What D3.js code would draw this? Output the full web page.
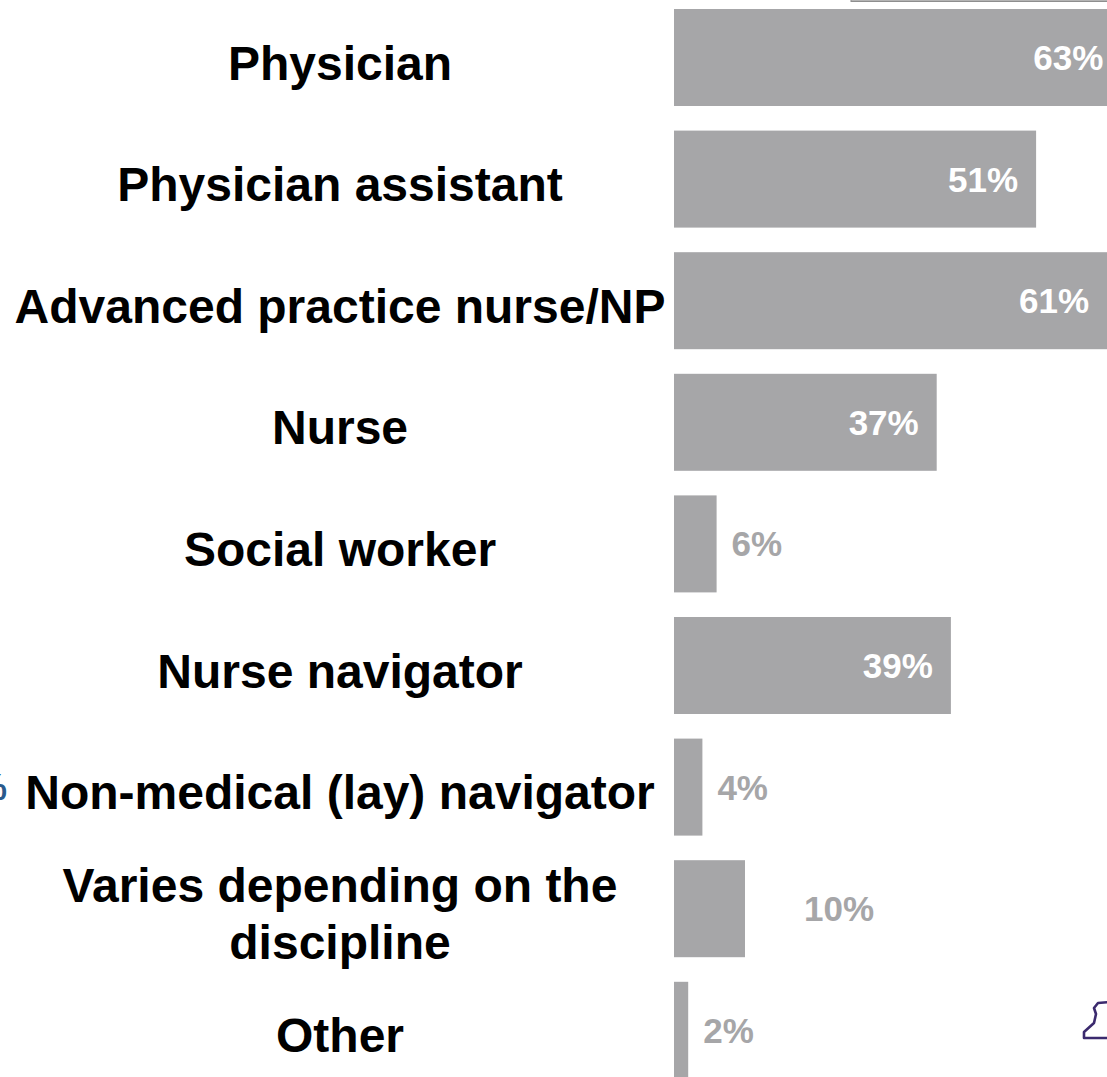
<!DOCTYPE html>
<html>
<head>
<meta charset="utf-8">
<script src="https://cdn.jsdelivr.net/npm/d3@7"></script>
<style>
  html, body { margin: 0; padding: 0; background: #ffffff; overflow: hidden; }
  svg { display: block; }
  text { font-family: "Liberation Sans", Arial, sans-serif; font-weight: bold; }
</style>
</head>
<body>
<svg id="chart" width="1107" height="1077"></svg>
<script>
// Roles and the share of respondents choosing each one (percent)
const roles = [
  "Physician",
  "Physician assistant",
  "Advanced practice nurse/NP",
  "Nurse",
  "Social worker",
  "Nurse navigator",
  "Non-medical (lay) navigator",
  "Varies depending on the\ndiscipline",
  "Other"
];
const shares = [63, 51, 61, 37, 6, 39, 4, 10, 2];

const data = roles.map((r, i) => ({ role: r, value: shares[i] }));

const svg = d3.select("#chart");
const W = 1107, H = 1077;

const baseX = 674;
const x = d3.scaleLinear().domain([0, 100]).range([baseX, baseX + 710]);

const step = 121.6, barH = 97, pInner = (step - barH) / step;
const y = d3.scaleBand()
  .domain(roles)
  .range([9, 9 + step * (roles.length - pInner)])
  .paddingInner(pInner)
  .paddingOuter(0);

const barColor = "#a6a6a8";

// edge of the panel above, cut at the top border
svg.append("rect")
  .attr("x", 851).attr("y", -6).attr("width", W - 851 + 2).attr("height", 7.5)
  .attr("fill", "#b4b4b4").attr("stroke", "#8e8e8e").attr("stroke-width", 1);

// bars
svg.append("g").selectAll("rect")
  .data(data)
  .join("rect")
  .attr("x", x(0))
  .attr("y", d => y(d.role))
  .attr("width", d => x(d.value) - x(0))
  .attr("height", y.bandwidth())
  .attr("fill", barColor);

// category labels, centred in the left column
const labelCx = 340, labelSize = 48, lineGap = 57;
const labels = svg.append("g").selectAll("text")
  .data(data)
  .join("text")
  .attr("text-anchor", "middle")
  .attr("font-size", labelSize)
  .attr("fill", "#000000");
labels.each(function (d) {
  const lines = d.role.split("\n");
  const cy = y(d.role) + y.bandwidth() / 2;
  const first = cy + 22 - (lines.length - 1) * lineGap / 2;
  d3.select(this).selectAll("tspan")
    .data(lines)
    .join("tspan")
    .attr("x", labelCx)
    .attr("y", (l, i) => first + i * lineGap)
    .text(l => l);
});

// value labels: white inside long bars, grey beside short ones
const outsideGap = d => (d.role.startsWith("Varies") ? 59 : 15);
svg.append("g").selectAll("text")
  .data(data)
  .join("text")
  .attr("font-size", 35)
  .attr("y", d => y(d.role) + y.bandwidth() / 2 + 12.5)
  .attr("text-anchor", d => (d.value >= 20 ? "end" : "start"))
  .attr("x", d => (d.value >= 20 ? Math.min(x(d.value), 1122) - 18 : x(d.value) + outsideGap(d)))
  .attr("fill", d => (d.value >= 20 ? "#ffffff" : "#a6a6a8"))
  .text(d => d.value + "%");

// remnant of a neighbouring label at the left border
svg.append("text")
  .attr("x", 7).attr("y", 800)
  .attr("text-anchor", "end")
  .attr("font-size", 36)
  .attr("fill", "#2a5a8c")
  .text("%");

// outline icon peeking in at the lower right
svg.append("path")
  .attr("d", "M1109,1038 L1084,1038 L1084,1032 L1094,1023 L1096,1014 L1094,1008 L1098,1003 L1109,1002")
  .attr("fill", "#ffffff")
  .attr("stroke", "#3b2a6e")
  .attr("stroke-width", 2.6)
  .attr("stroke-linejoin", "round");
</script>
</body>
</html>
